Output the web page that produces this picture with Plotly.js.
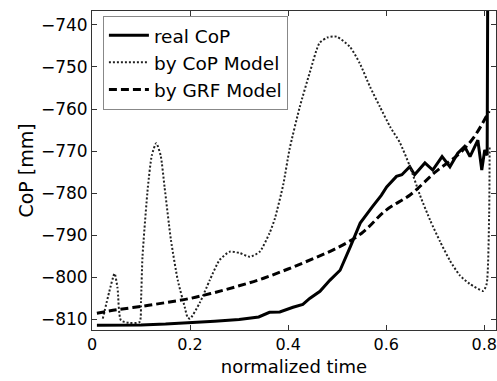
<!DOCTYPE html>
<html>
<head>
<meta charset="utf-8">
<script src="https://cdn.plot.ly/plotly-3.0.1.min.js"></script>
<style>html,body{margin:0;padding:0;background:#fff;}#chart{width:497px;height:381px;}</style>
</head>
<body>
<div id="chart"></div>
<script>
// Real CoP (solid)
const timeReal = [0.010, 0.050, 0.100, 0.150, 0.200, 0.250, 0.300, 0.340, 0.362, 0.383, 0.410, 0.430, 0.444, 0.465, 0.485, 0.506, 0.527, 0.547, 0.572, 0.590, 0.601, 0.612, 0.621, 0.632, 0.642, 0.648, 0.658, 0.679, 0.695, 0.714, 0.730, 0.746, 0.760, 0.771, 0.787, 0.795, 0.801, 0.806, 0.807];
const copReal  = [-811.4, -811.4, -811.3, -811.1, -810.8, -810.4, -810.0, -809.4, -808.3, -808.2, -807.1, -806.4, -805.0, -803.3, -800.7, -798.3, -792.7, -787.1, -783.2, -780.5, -778.5, -777.2, -776.0, -775.6, -774.5, -773.7, -775.6, -772.8, -774.5, -771.3, -773.7, -770.5, -768.9, -771.3, -767.4, -774.5, -769.7, -771.0, -735.0];

// CoP model (dotted)
const timeCopModel = [0.022, 0.035, 0.046, 0.052, 0.059, 0.075, 0.097, 0.100, 0.103, 0.114, 0.122, 0.131, 0.140, 0.148, 0.161, 0.175, 0.189, 0.195, 0.200, 0.220, 0.240, 0.260, 0.281, 0.301, 0.322, 0.342, 0.362, 0.373, 0.390, 0.403, 0.424, 0.444, 0.464, 0.480, 0.499, 0.526, 0.546, 0.567, 0.587, 0.608, 0.628, 0.648, 0.669, 0.690, 0.710, 0.730, 0.750, 0.770, 0.798, 0.805, 0.810, 0.811];
const copModel     = [-809.8, -803.5, -799.1, -802.5, -810.2, -810.8, -810.6, -805.4, -795.1, -778.5, -771.0, -768.1, -771.0, -778.5, -791.1, -800.7, -807.0, -809.5, -809.8, -806.0, -800.7, -795.9, -793.9, -794.2, -795.1, -793.9, -789.5, -786.0, -778.0, -769.5, -759.4, -751.4, -744.3, -743.0, -742.8, -745.2, -749.1, -754.7, -759.4, -764.2, -768.0, -773.5, -780.5, -786.5, -791.5, -796.0, -799.5, -801.5, -803.2, -801.5, -785.0, -769.0];

// GRF model (dashed)
const timeGrf = [0.010, 0.050, 0.100, 0.150, 0.200, 0.250, 0.300, 0.350, 0.400, 0.450, 0.500, 0.550, 0.600, 0.650, 0.700, 0.750, 0.780, 0.810];
const copGrf  = [-808.5, -807.7, -806.9, -806.0, -805.0, -803.6, -802.0, -800.2, -798.0, -795.6, -793.0, -789.5, -784.0, -780.3, -775.0, -770.5, -766.5, -760.5];

const seriesNames = ['real CoP', 'by CoP Model', 'by GRF Model'];
const xTickVals = [0, 0.2, 0.4, 0.6, 0.8];
const xTickText = ['0', '0.2', '0.4', '0.6', '0.8'];
const yTickVals = [-740, -750, -760, -770, -780, -790, -800, -810];
const yTickText = ['\u2212740', '\u2212750', '\u2212760', '\u2212770', '\u2212780', '\u2212790', '\u2212800', '\u2212810'];

const FONT = 'DejaVu Sans, Verdana, sans-serif';

const traces = [
  {x: timeReal, y: copReal, name: seriesNames[0], mode: 'lines',
   line: {color: '#000', width: 3}},
  {x: timeCopModel, y: copModel, name: seriesNames[1], mode: 'lines', line: {shape: 'spline', smoothing: 0.6,
   color: '#222', width: 2, dash: '2px,2px'}},
  {x: timeGrf, y: copGrf, name: seriesNames[2], mode: 'lines', line: {shape: 'spline',
   color: '#000', width: 3, dash: '8px,4px'}}
];

const layout = {
  width: 497, height: 381,
  margin: {l: 92, r: 1, t: 11, b: 51, pad: 0},
  paper_bgcolor: '#fff', plot_bgcolor: '#fff',
  font: {family: FONT, size: 17, color: '#000'},
  showlegend: true,
  legend: {x: 0.027, y: 0.985, xanchor: 'left', yanchor: 'top',
    bgcolor: '#fff', bordercolor: '#888', borderwidth: 1, itemwidth: 40,
    font: {family: FONT, size: 18.5, color: '#000'}, tracegroupgap: 0},
  xaxis: {range: [0, 0.824], tickvals: xTickVals, ticktext: xTickText,
    ticks: 'inside', ticklen: 5, tickcolor: '#333', showline: true, linecolor: '#333', linewidth: 1,
    mirror: 'ticks', showgrid: false, zeroline: false,
    tickfont: {family: FONT, size: 16},
    title: {text: 'normalized time', font: {family: FONT, size: 18}, standoff: 7}},
  yaxis: {range: [-812.5, -736.7], tickvals: yTickVals, ticktext: yTickText,
    ticks: 'inside', ticklen: 5, tickcolor: '#333', showline: true, linecolor: '#333', linewidth: 1,
    mirror: 'ticks', showgrid: false, zeroline: false,
    tickfont: {family: FONT, size: 17},
    title: {text: 'CoP [mm]', font: {family: FONT, size: 19}, standoff: 2}}
};

Plotly.newPlot('chart', traces, layout, {displayModeBar: false, staticPlot: true});
</script>
</body>
</html>
